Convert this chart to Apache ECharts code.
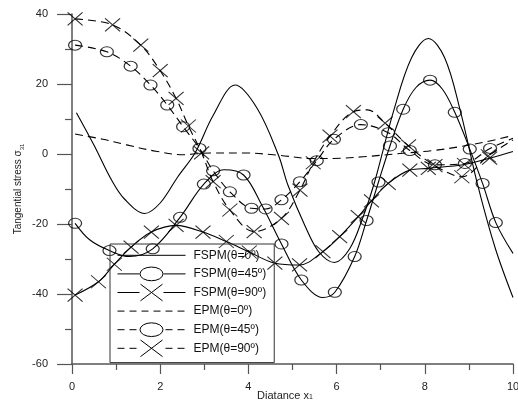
<!DOCTYPE html>
<html>
<head>
<meta charset="utf-8">
<script src="https://cdn.jsdelivr.net/npm/echarts@6/dist/echarts.min.js"></script>
<style>
html, body { margin: 0; padding: 0; background: #fff; }
#main { width: 518px; height: 404px; }
</style>
</head>
<body>
<div id="main"></div>
<script>
// legend names
var seriesNames = ['FSPM(θ=0º)', 'FSPM(θ=45º)', 'FSPM(θ=90º)', 'EPM(θ=0º)', 'EPM(θ=45º)', 'EPM(θ=90º)'];

// curves, [x, sigma31]
var fspm0Curve = [[0.1,11.8],[0.5,2.5],[0.9,-7.5],[1.2,-13],[1.65,-17],[2.0,-14],[2.4,-6.5],[2.8,0.5],[3.2,11],[3.7,19.7],[4.2,13],[4.68,-0.3],[4.9,-9],[5.3,-21],[5.6,-28],[5.95,-31],[6.3,-27],[6.6,-18],[6.85,-8.5],[7.3,12.6],[7.7,27.5],[8.08,33],[8.45,27.5],[8.8,12.6],[9.2,-8.9],[9.6,-27],[10,-41]];

var fspm45Curve = [[0.07,-19.8],[0.4,-24.5],[0.85,-27.6],[1.3,-29.3],[1.83,-27.1],[2.45,-18.1],[2.99,-8.6],[3.45,-4.5],[3.89,-6],[4.3,-14.5],[4.75,-25.7],[5.2,-36],[5.69,-41],[5.96,-39.5],[6.41,-29.3],[6.68,-19],[6.95,-8],[7.21,2.3],[7.51,12.8],[7.8,19],[8.12,21.1],[8.4,18.5],[8.68,11.9],[9.02,1.4],[9.31,-8.4],[9.61,-19.6],[10,-28.4]];
var fspm45Marks = [[0.07,-19.8],[0.85,-27.6],[1.83,-27.1],[2.45,-18.1],[2.99,-8.6],[3.89,-6],[4.75,-25.7],[5.2,-36],[5.96,-39.5],[6.41,-29.3],[6.68,-19],[6.95,-8],[7.21,2.3],[7.51,12.8],[8.12,21.1],[8.68,11.9],[9.02,1.4],[9.31,-8.4],[9.61,-19.6]];

var fspm90Curve = [[0.07,-40.3],[0.6,-36.5],[0.96,-31.5],[1.34,-26.6],[1.8,-22.3],[2.36,-20.4],[2.97,-22.3],[3.5,-25],[4.02,-28],[4.6,-31.2],[5.16,-31.7],[5.69,-27.9],[6.07,-23.6],[6.49,-17.9],[6.79,-13.4],[7.17,-8.4],[7.66,-4.6],[8.08,-4.1],[8.9,-3],[9.47,-1.2],[10,0.7]];
var fspm90Marks = [[0.07,-40.3],[0.6,-36.5],[0.96,-31.5],[1.34,-26.6],[1.8,-22.3],[2.36,-20.4],[2.97,-22.3],[3.5,-25],[4.02,-28],[4.6,-31.2],[5.16,-31.7],[5.69,-27.9],[6.07,-23.6],[6.49,-17.9],[6.79,-13.4],[7.17,-8.4],[7.66,-4.6],[8.08,-4.1],[8.9,-3],[9.47,-1.2]];

var epm0Curve = [[0.07,5.7],[0.7,4.2],[1.24,2.6],[1.9,0.8],[2.52,-0.2],[3.13,0.3],[3.9,0.3],[4.64,-0.3],[5.47,-1.3],[6.1,-1.2],[6.6,-0.8],[7.5,0.2],[8.2,1.0],[8.8,2.1],[9.4,3.5],[10,5.3]];

var epm45Curve = [[0.07,31.1],[0.79,29.2],[1.33,25.1],[1.78,19.7],[2.16,14],[2.52,7.8],[2.89,1.6],[3.2,-4.8],[3.58,-10.8],[4.07,-15.5],[4.39,-15.7],[4.75,-13.1],[5.17,-7.9],[5.55,-1.9],[5.94,4.2],[6.55,8.4],[7.17,6.1],[7.66,1.0],[8.23,-3.1],[8.91,-2.7],[9.48,1.6],[10,4.5]];
var epm45Marks = [[0.07,31.1],[0.79,29.2],[1.33,25.1],[1.78,19.7],[2.16,14],[2.52,7.8],[2.89,1.6],[3.2,-4.8],[3.58,-10.8],[4.07,-15.5],[4.39,-15.7],[4.75,-13.1],[5.17,-7.9],[5.55,-1.9],[5.94,4.2],[6.55,8.4],[7.17,6.1],[7.66,1.0],[8.23,-3.1],[8.91,-2.7],[9.48,1.6]];

var epm90Curve = [[0.07,38.6],[0.92,36.9],[1.56,31.1],[2.0,23.8],[2.36,15.9],[2.64,8],[2.94,0.3],[3.2,-7.9],[3.58,-16],[4.13,-22.2],[4.75,-18.4],[5.17,-10.3],[5.47,-2.5],[5.85,5.1],[6.38,12.1],[6.7,12.6],[7.1,8.8],[7.63,2.3],[8.23,-3.3],[8.84,-6.5],[9.44,-0.5],[10,4]];
var epm90Marks = [[0.07,38.6],[0.92,36.9],[1.56,31.1],[2.0,23.8],[2.36,15.9],[2.64,8],[2.94,0.3],[3.2,-7.9],[3.58,-16],[4.13,-22.2],[4.75,-18.4],[5.17,-10.3],[5.47,-2.5],[5.85,5.1],[6.38,12.1],[7.1,8.8],[7.63,2.3],[8.23,-3.3],[8.84,-6.5],[9.44,-0.5]];

var ellipsePath = 'path://M0,1A1,1 0 1,0 2,1A1,1 0 1,0 0,1Z';
var crossPath = 'path://M0,0L2,2M2,0L0,2';
var fontFamily = '"Liberation Sans", Arial, sans-serif';

function curveSeries(name, data, dashed) {
    return {
        name: name, type: 'line', data: data, smooth: 0.35,
        symbol: 'none', silent: true, z: 2,
        lineStyle: { color: '#000', width: 1.1, type: dashed ? [8, 5] : 'solid' },
        itemStyle: { color: '#000' },
        emphasis: { disabled: true }
    };
}

function markSeries(name, data, shape) {
    return {
        name: name, type: 'scatter', data: data, silent: true, z: 3,
        symbol: shape == 'o' ? ellipsePath : crossPath,
        symbolSize: shape == 'o' ? [13, 10] : [15, 13],
        itemStyle: { color: 'rgba(0,0,0,0)', borderColor: '#000', borderWidth: 1.1 },
        emphasis: { disabled: true }
    };
}

// legend icon: line (solid or dashed) with the marker in the middle
function legendIcon(shape, dashed) {
    var p = 'path://M0,0M71,18';
    var gapL = shape ? 22 : 999, gapR = shape ? 46 : -999;
    if (dashed) {
        for (var s = 0; s + 7 <= 68; s += 12) {
            var e = s + 7;
            if (e <= gapL || s >= gapR) p += 'M' + s + ',9L' + e + ',9';
        }
    } else if (shape) {
        p += 'M0,9L' + gapL + ',9M' + gapR + ',9L68,9';
    } else {
        p += 'M0,9L68,9';
    }
    if (shape == 'o') p += 'M22.5,9A11.5,7 0 1,0 45.5,9A11.5,7 0 1,0 22.5,9Z';
    if (shape == 'x') p += 'M23,0.5L45,17.5M45,0.5L23,17.5';
    return p;
}

var myChart = echarts.init(document.getElementById('main'), null, { renderer: 'canvas' });

var axisColor = '#555';
var option = {
    animation: false,
    backgroundColor: '#fff',
    grid: { left: 72, right: 5, top: 14, bottom: 40, containLabel: false, outerBoundsMode: 'none' },
    legend: {
        orient: 'vertical', left: 110, top: 244,
        padding: [2, 8, 5, 7],
        borderColor: '#333', borderWidth: 1,
        itemGap: 0, itemWidth: 71, itemHeight: 17.6,
        symbolKeepAspect: false,
        selectedMode: false,
        itemStyle: { color: 'rgba(0,0,0,0)', borderColor: '#000', borderWidth: 1 },
        textStyle: { fontSize: 12, color: '#111', fontFamily: fontFamily },
        data: [
            { name: seriesNames[0], icon: legendIcon(null, false) },
            { name: seriesNames[1], icon: legendIcon('o', false) },
            { name: seriesNames[2], icon: legendIcon('x', false) },
            { name: seriesNames[3], icon: legendIcon(null, true) },
            { name: seriesNames[4], icon: legendIcon('o', true) },
            { name: seriesNames[5], icon: legendIcon('x', true) }
        ]
    },
    xAxis: {
        type: 'value', min: 0, max: 10, interval: 2,
        name: 'Diatance x{s|1}', nameLocation: 'middle', nameGap: 26,
        nameMoveOverlap: false,
        nameTextStyle: {
            fontSize: 11, color: '#222', fontFamily: fontFamily, padding: [0, 15, 0, 0],
            rich: { s: { fontSize: 7, fontFamily: fontFamily, color: '#222', verticalAlign: 'bottom', padding: [4, 0, 0, 0] } }
        },
        axisLine: { show: true, onZero: false, lineStyle: { color: axisColor, width: 1.5 } },
        axisTick: { show: true, length: 10, lineStyle: { color: axisColor, width: 1.2 } },
        minorTick: { show: true, splitNumber: 2, length: 6, lineStyle: { color: axisColor, width: 1.2 } },
        splitLine: { show: false },
        axisLabel: { margin: 17, fontSize: 11, color: '#222', fontFamily: fontFamily }
    },
    yAxis: {
        type: 'value', min: -60, max: 40, interval: 20,
        name: '{n|Tangential stress σ}{s|31}', nameLocation: 'middle', nameGap: 47,
        nameMoveOverlap: false,
        nameTextStyle: {
            rich: {
                n: { fontSize: 10, color: '#222', fontFamily: fontFamily, verticalAlign: 'top', lineHeight: 12 },
                s: { fontSize: 6, color: '#222', fontFamily: fontFamily, verticalAlign: 'bottom', padding: [5, 0, 0, 0] }
            }
        },
        axisLine: { show: true, onZero: false, lineStyle: { color: axisColor, width: 1.5 } },
        axisTick: { show: true, length: 15, lineStyle: { color: axisColor, width: 1.2 } },
        minorTick: { show: true, splitNumber: 2, length: 7, lineStyle: { color: axisColor, width: 1.2 } },
        splitLine: { show: false },
        axisLabel: { margin: 24, fontSize: 11, color: '#222', fontFamily: fontFamily }
    },
    series: [
        curveSeries(seriesNames[0], fspm0Curve, false),
        curveSeries(seriesNames[1], fspm45Curve, false),
        markSeries(seriesNames[1], fspm45Marks, 'o'),
        curveSeries(seriesNames[2], fspm90Curve, false),
        markSeries(seriesNames[2], fspm90Marks, 'x'),
        curveSeries(seriesNames[3], epm0Curve, true),
        curveSeries(seriesNames[4], epm45Curve, true),
        markSeries(seriesNames[4], epm45Marks, 'o'),
        curveSeries(seriesNames[5], epm90Curve, true),
        markSeries(seriesNames[5], epm90Marks, 'x')
    ]
};
myChart.setOption(option);
</script>
</body>
</html>
